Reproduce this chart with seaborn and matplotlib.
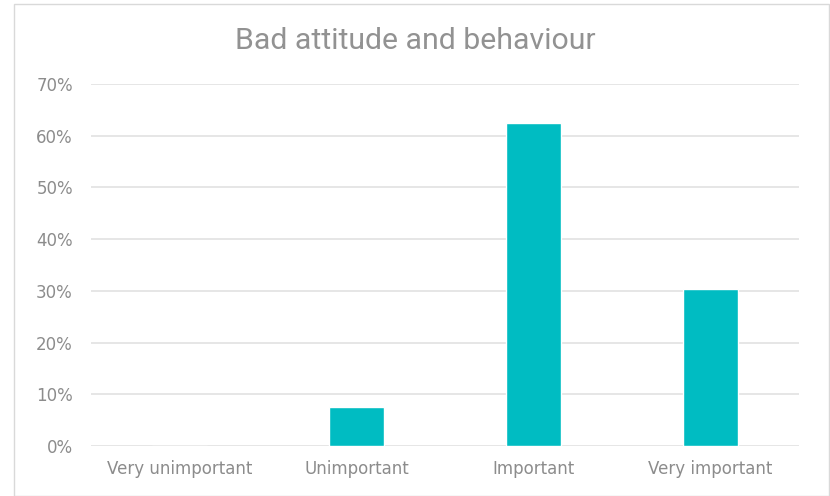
import seaborn as sns
import matplotlib.pyplot as plt
import matplotlib.ticker as mtick
from matplotlib.patches import Rectangle
import pandas as pd

categories = ['Very unimportant', 'Unimportant', 'Important', 'Very important']
shares = [0.0, 0.075, 0.624, 0.303]
y_ticks = [0, 0.1, 0.2, 0.3, 0.4, 0.5, 0.6, 0.7]

df = pd.DataFrame({'answer': categories, 'share': shares})

sns.set_theme(style='white')
plt.rcParams['font.family'] = ['Liberation Sans Narrow', 'DejaVu Sans']

fig = plt.figure(figsize=(8.3, 4.96), dpi=100)
ax = fig.add_axes([0.1096, 0.1008, 0.8530, 0.7298])

sns.barplot(data=df, x='answer', y='share', color='#00BCC2', width=0.31,
            saturation=1, ax=ax, zorder=3)

ax.set_ylim(0, 0.7)
ax.set_yticks(y_ticks)
ax.yaxis.set_major_formatter(mtick.PercentFormatter(1.0, decimals=0))
ax.grid(axis='y', color='#e2e2e2', linewidth=1.2, zorder=0)
for s in ax.spines.values():
    s.set_visible(False)
ax.tick_params(axis='both', length=0, labelsize=12, labelcolor='#8c8c8c')
ax.tick_params(axis='y', pad=13)
ax.tick_params(axis='x', pad=10)
ax.set_xlabel('')
ax.set_ylabel('')

fig.text(0.5, 0.917, 'Bad attitude and behaviour', ha='center', va='center',
         fontsize=21.8, color='#929292', family=['Roboto', 'DejaVu Sans'])

fig.patches.append(Rectangle((14 / 830, 0), 815 / 830, 492 / 496,
                             transform=fig.transFigure, fill=False,
                             edgecolor='#d9d9d9', linewidth=1))

fig.savefig('out.png', dpi=100)
